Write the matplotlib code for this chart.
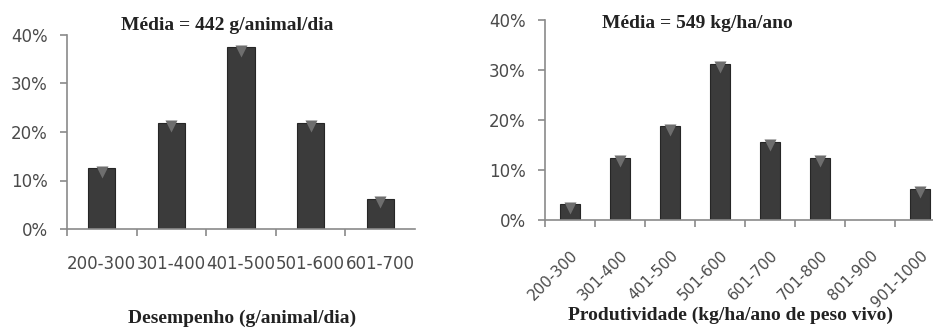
import numpy as np
import matplotlib
matplotlib.use("Agg")
import matplotlib.pyplot as plt
from matplotlib.ticker import PercentFormatter

# dados: desempenho (g/animal/dia)
faixas_desemp = ["200-300", "301-400", "401-500", "501-600", "601-700"]
freq_desemp = [12.5, 21.875, 37.5, 21.875, 6.25]

# dados: produtividade (kg/ha/ano)
faixas_prod = ["200-300", "301-400", "401-500", "501-600", "601-700",
               "701-800", "801-900", "901-1000"]
freq_prod = [3.125, 12.5, 18.75, 31.25, 15.625, 12.5, 0.0, 6.25]

titulo_esq = "Média = 442 g/animal/dia"
titulo_dir = "Média = 549 kg/ha/ano"
xlabel_esq = "Desempenho (g/animal/dia)"
xlabel_dir = "Produtividade (kg/ha/ano de peso vivo)"

W, H = 933, 327
fig = plt.figure(figsize=(W / 100, H / 100), dpi=100)

cor_barra = "#3b3b3b"
cor_eixo = "#8a8a8a"
cor_texto = "#4a4a4a"
serif = ["Liberation Serif", "DejaVu Serif"]


def painel(ax, faixas, freq, largura, rot):
    x = np.arange(len(faixas))
    ax.bar(x, freq, width=largura, color=cor_barra, edgecolor="#262626", linewidth=0.8, zorder=2)
    # brilho no topo das barras
    v = np.array(freq)
    m = v > 0
    ax.scatter(x[m], v[m] - 0.7, marker="v", s=75, color="#6e6e6e", linewidths=0, zorder=3)
    ax.set_xlim(-0.5, len(faixas) - 0.5)
    ax.set_ylim(0, 40)
    ax.set_yticks([0, 10, 20, 30, 40])
    ax.yaxis.set_major_formatter(PercentFormatter(decimals=0))
    for s in ["top", "right"]:
        ax.spines[s].set_visible(False)
    for s in ["left", "bottom"]:
        ax.spines[s].set_color(cor_eixo)
        ax.spines[s].set_linewidth(1.2)
    ax.tick_params(axis="y", length=5, width=1.2, color=cor_eixo, pad=9,
                   labelsize=12, labelcolor=cor_texto)
    ax.set_xticks(x)
    ax.set_xticks(np.arange(len(faixas)) - 0.5, minor=True)
    ax.tick_params(axis="x", which="major", length=0, labelcolor=cor_texto)
    ax.tick_params(axis="x", which="minor", length=5, width=1.2, color=cor_eixo)
    if rot:
        ax.set_xticklabels(faixas, rotation=45, ha="right", va="top", rotation_mode="anchor")
        ax.tick_params(axis="x", which="major", pad=20, labelsize=11)
    else:
        ax.set_xticklabels(faixas)
        ax.tick_params(axis="x", which="major", pad=19, labelsize=12)


ax1 = fig.add_axes([67 / W, 1 - 229 / H, (415 - 67) / W, (229 - 35) / H])
painel(ax1, faixas_desemp, freq_desemp, 0.39, False)

ax2 = fig.add_axes([545 / W, 1 - 220 / H, (945 - 545) / W, (220 - 20) / H])
painel(ax2, faixas_prod, freq_prod, 0.4, True)

fig.text(227 / W, 1 - 25 / H, titulo_esq, ha="center", va="center",
         family=serif, fontweight="bold", fontsize=14, color="#222222")
fig.text(697 / W, 1 - 23 / H, titulo_dir, ha="center", va="center",
         family=serif, fontweight="bold", fontsize=14, color="#222222")
fig.text(242 / W, 1 - 318 / H, xlabel_esq, ha="center", va="center",
         family=serif, fontweight="bold", fontsize=14, color="#222222")
fig.text(730 / W, 1 - 315 / H, xlabel_dir, ha="center", va="center",
         family=serif, fontweight="bold", fontsize=14, color="#222222")

fig.savefig("out.png", dpi=100)
